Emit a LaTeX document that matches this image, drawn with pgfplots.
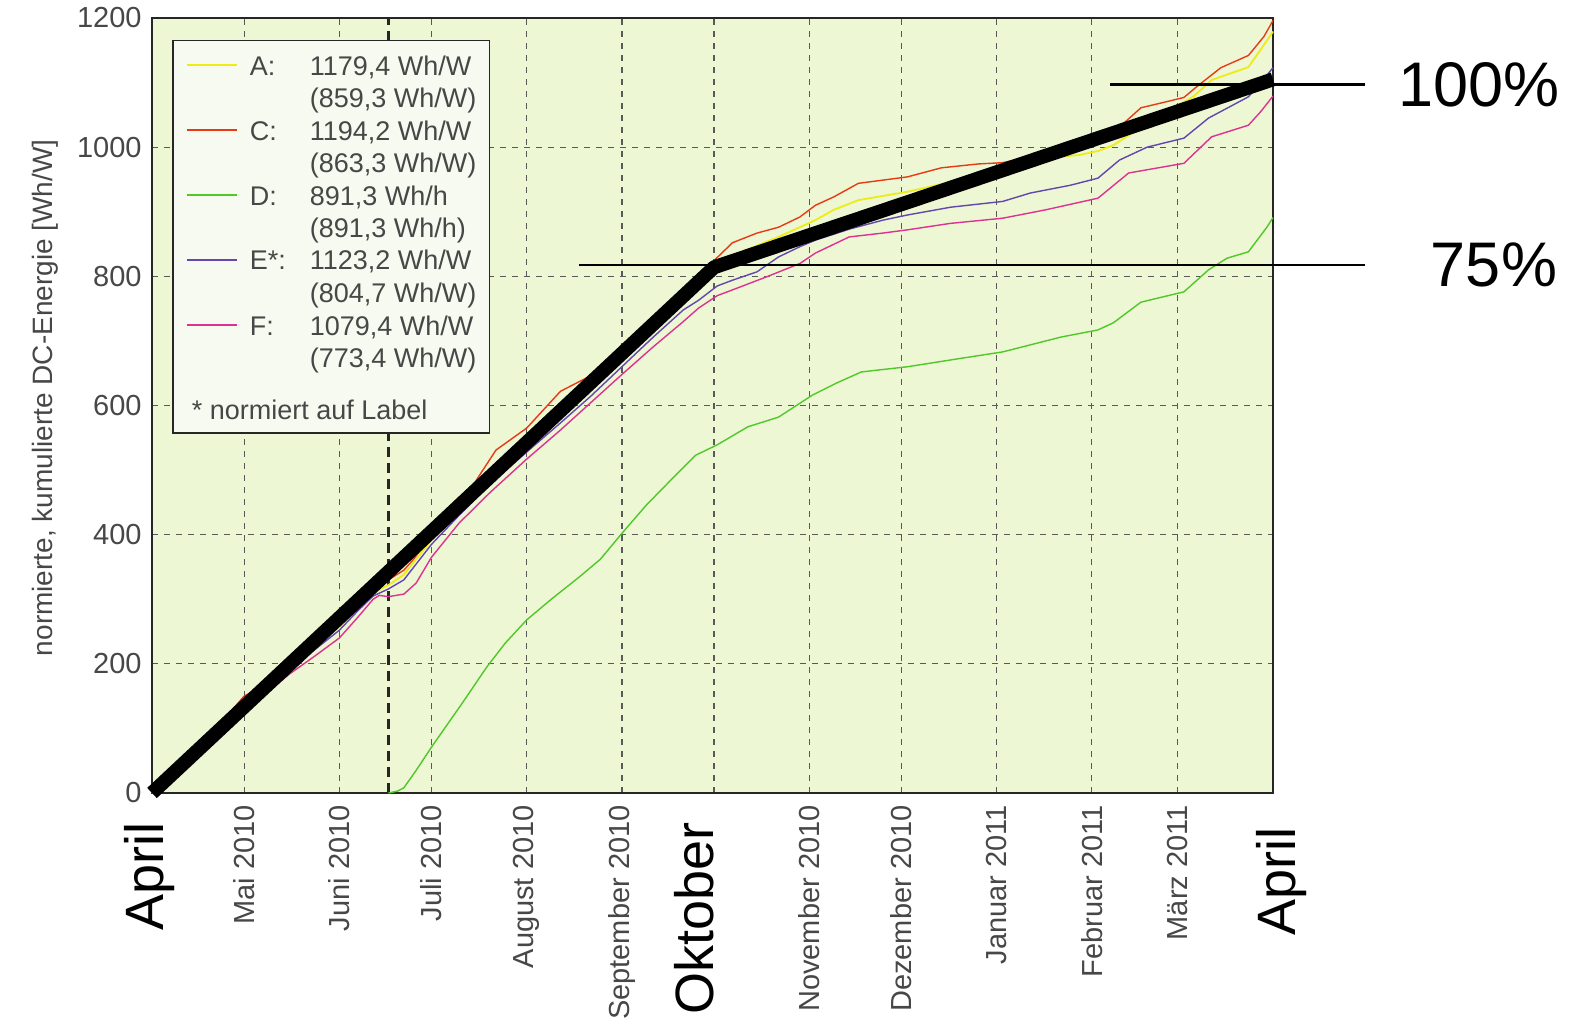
\documentclass[border=0pt]{standalone}
\usepackage{pgfplots}
\pgfplotsset{compat=1.18}
\usepackage{fontspec}
\setmainfont{Liberation Sans}
\definecolor{bggreen}{RGB}{237,247,212}
\definecolor{legendbg}{RGB}{246,250,240}
\definecolor{cA}{RGB}{238,236,20}
\definecolor{cC}{RGB}{232,58,20}
\definecolor{cD}{RGB}{80,200,40}
\definecolor{cE}{RGB}{100,70,175}
\definecolor{cF}{RGB}{222,50,145}
\newcommand{\lrule}{\rule[-3pt]{0pt}{16.25pt}}
\begin{document}
\begin{tikzpicture}
\useasboundingbox (-76pt,-115pt) rectangle (711.5pt,396.5pt);
\begin{axis}[
  scale only axis, width=560.5pt, height=387.5pt,
  xmin=0, xmax=365, ymin=0, ymax=1200,
  clip=false,
  axis background/.style={fill=bggreen},
  axis line style={draw=black!85, line width=0.9pt},
  xtick={0,30,61,91,122,153,183,214,244,275,306,334,365},
  xticklabels={,Mai 2010,Juni 2010,Juli 2010,August 2010,September 2010,,November 2010,Dezember 2010,Januar 2011,Februar 2011,März 2011,},
  ytick={0,200,400,600,800,1000,1200},
  grid=major,
  major grid style={black!65, line width=0.6pt, dash pattern=on 3pt off 3pt},
  major tick length=0pt,
  /pgf/number format/assume math mode=true,
  /pgf/number format/1000 sep={},
  tick label style={font=\fontsize{14.5}{16}\selectfont, text=black!72},
  xticklabel style={rotate=90, anchor=east, inner sep=0pt},
  xticklabel shift=6pt,
  yticklabel style={inner sep=0pt},
  yticklabel shift=5pt,
  ylabel={normierte, kumulierte DC-Energie [Wh/W]},
  ylabel style={at={(axis description cs:-0.0955,0.51)}, anchor=center, font=\fontsize{14}{16}\selectfont, text=black!72},
  legend image code/.code={\draw[#1] (0pt,0pt) -- (25pt,0pt);},
  legend cell align=left,
  legend style={at={(0.018,0.972)}, anchor=north west, draw=black!85, line width=0.8pt,
    fill=legendbg, font=\fontsize{13.5}{16}\selectfont, text=black!72,
    row sep=0pt, column sep=6pt, inner xsep=6.5pt, inner ysep=4pt,
    nodes={inner sep=0pt, text depth={}}},
]
\addlegendimage{cA, line width=0.9pt}
\addlegendentry{\lrule\makebox[30pt][l]{A:}1179,4 Wh/W}
\addlegendimage{empty legend}
\addlegendentry{\lrule\hspace{30pt}(859,3 Wh/W)}
\addlegendimage{cC, line width=0.9pt}
\addlegendentry{\lrule\makebox[30pt][l]{C:}1194,2 Wh/W}
\addlegendimage{empty legend}
\addlegendentry{\lrule\hspace{30pt}(863,3 Wh/W)}
\addlegendimage{cD, line width=0.9pt}
\addlegendentry{\lrule\makebox[30pt][l]{D:}891,3 Wh/h}
\addlegendimage{empty legend}
\addlegendentry{\lrule\hspace{30pt}(891,3 Wh/h)}
\addlegendimage{cE, line width=0.9pt}
\addlegendentry{\lrule\makebox[30pt][l]{E*:}1123,2 Wh/W}
\addlegendimage{empty legend}
\addlegendentry{\lrule\hspace{30pt}(804,7 Wh/W)}
\addlegendimage{cF, line width=0.9pt}
\addlegendentry{\lrule\makebox[30pt][l]{F:}1079,4 Wh/W}
\addlegendimage{empty legend}
\addlegendentry{\lrule\hspace{30pt}(773,4 Wh/W)}
\addlegendimage{empty legend}
\addlegendentry{\rule[-3pt]{0pt}{25.75pt}\hspace*{-29pt}* normiert auf Label}

% vertical dashed marker
\addplot[forget plot, black!85, line width=1.1pt, dash pattern=on 5pt off 3pt] coordinates {(77,0) (77,1200)};

% D (green)
\addplot[forget plot, cD, line width=0.7pt] coordinates {
(77,0) (80,3) (82,8) (86,35) (91,71) (96,105) (101,139) (109,195) (115,232) (122,268)
(130,300) (139,334) (146,362) (153,402) (161,446) (168,480) (177,523) (184,539) (194,567)
(204,582) (215,616) (223,635) (231,652) (246,660) (262,672) (277,683) (296,706) (308,717)
(313,728) (322,760) (336,776) (344,810) (350,828) (357,838) (363,876) (365,891)};

% F (pink)
\addplot[forget plot, cF, line width=0.7pt] coordinates {
(0,0) (8,34) (15,68) (23,102) (30,135) (38,158) (45,185) (53,212) (61,240) (67,272)
(72,300) (74,306) (77,304) (82,308) (86,325) (91,365) (100,418) (110,465) (122,517)
(133,562) (143,605) (153,648) (163,690) (173,730) (178,751) (184,770) (189,779) (200,799)
(211,820) (216,836) (227,861) (238,867) (246,872) (260,882) (277,890) (291,903) (308,921)
(318,960) (336,975) (345,1016) (357,1034) (361,1055) (365,1079)};

% E (purple)
\addplot[forget plot, cE, line width=0.7pt] coordinates {
(0,0) (8,36) (15,72) (23,108) (30,142) (38,165) (45,192) (53,222) (61,252) (67,282)
(72,305) (77,316) (82,330) (91,385) (100,430) (110,478) (122,528) (133,573) (143,615)
(153,660) (163,705) (173,748) (178,763) (184,785) (189,794) (197,807) (204,830) (211,846)
(216,856) (227,873) (238,887) (246,895) (260,907) (277,916) (286,929) (299,941) (308,952)
(315,980) (324,1000) (336,1014) (344,1045) (357,1078) (361,1100) (365,1123)};

% A (yellow)
\addplot[forget plot, cA, line width=0.9pt] coordinates {
(0,0) (8,37) (15,73) (23,110) (30,146) (38,168) (45,195) (53,226) (61,258) (67,288)
(72,310) (77,322) (82,338) (91,392) (100,438) (110,485) (122,540) (133,588) (143,632)
(153,676) (163,720) (173,764) (184,812) (193,840) (204,861) (216,887) (222,903) (230,918)
(246,931) (260,946) (265,952) (277,970) (291,983) (302,988) (308,994) (313,1003)
(325,1040) (333,1062) (339,1078) (345,1104) (357,1124) (362,1158) (365,1179)};

% C (red)
\addplot[forget plot, cC, line width=0.7pt] coordinates {
(0,0) (8,38) (15,75) (23,112) (30,150) (38,170) (45,198) (53,230) (61,262) (67,292)
(72,318) (77,330) (82,345) (85,361) (91,398) (98,449) (105,480) (112,531) (122,565)
(133,622) (142,644) (153,692) (163,737) (172,774) (184,829) (189,852) (197,867) (204,876)
(211,892) (216,910) (222,923) (230,944) (246,954) (257,968) (269,974) (277,976) (286,985)
(295,1000) (301,1006) (309,1016) (315,1031) (322,1061) (330,1070) (336,1077) (340,1093)
(348,1123) (357,1142) (362,1171) (365,1196)};

% thick black trend line
\addplot[forget plot, black, line width=7pt, line join=round] coordinates {(0,0) (183,814) (365,1105)};

% 75% and 100% reference lines
\addplot[forget plot, black, line width=1.2pt] coordinates {(139,818) (395,818)};
\addplot[forget plot, black, line width=1.2pt] coordinates {(312,1097) (395,1097)};

\node[anchor=west, font=\fontsize{31.5}{34}\selectfont, inner sep=0pt] at (axis cs:405.6,1097) {100\%};
\node[anchor=west, font=\fontsize{31.5}{34}\selectfont, inner sep=0pt] at (axis cs:416.3,818) {75\%};

\node[rotate=90, anchor=east, xshift=-14.5pt, font=\fontsize{27}{30}\selectfont, inner sep=0pt] at (axis cs:-0.9,0) {April};
\node[rotate=90, anchor=east, xshift=-14.5pt, font=\fontsize{27}{30}\selectfont, inner sep=0pt] at (axis cs:176.5,0) {Oktober};
\node[rotate=90, anchor=east, xshift=-17pt, font=\fontsize{27}{30}\selectfont, inner sep=0pt] at (axis cs:367.8,0) {April};
\end{axis}
\end{tikzpicture}
\end{document}
